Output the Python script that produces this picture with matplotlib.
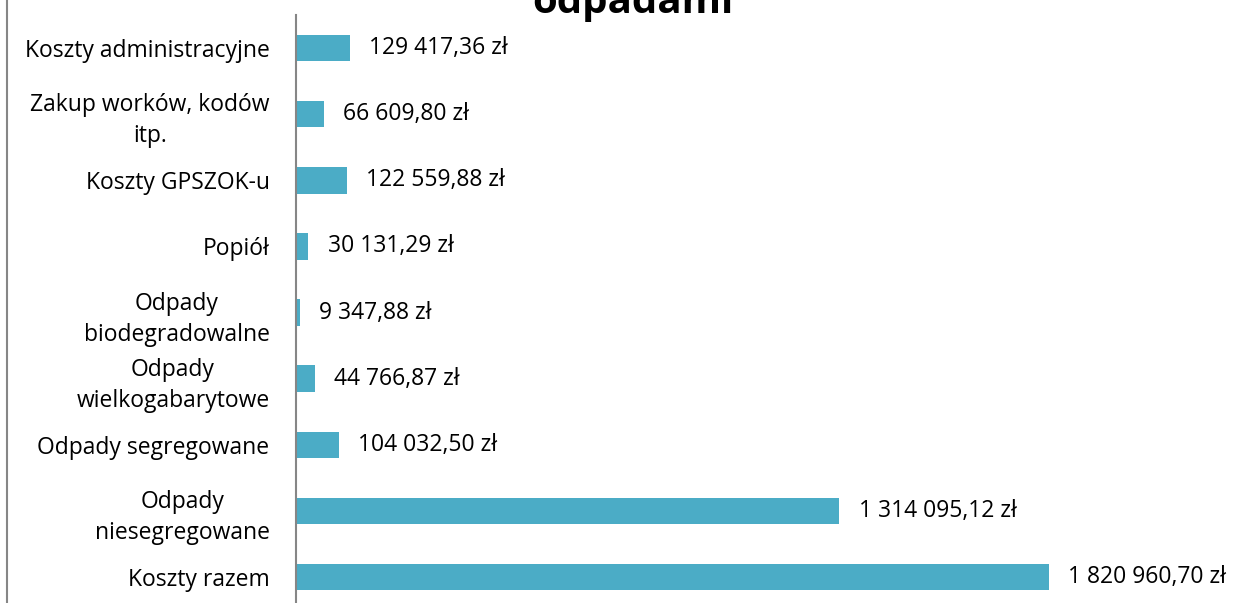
import matplotlib.pyplot as plt
from matplotlib.lines import Line2D

# Dane (od góry do dołu)
kategorie = [
    'Koszty administracyjne',
    'Zakup worków, kodów\nitp.',
    'Koszty GPSZOK-u',
    'Popiół',
    'Odpady\nbiodegradowalne',
    'Odpady\nwielkogabarytowe',
    'Odpady segregowane',
    'Odpady\nniesegregowane',
    'Koszty razem',
]
wartosci = [129417.36, 66609.80, 122559.88, 30131.29, 9347.88,
            44766.87, 104032.50, 1314095.12, 1820960.70]
etykiety = ['129 417,36 zł', '66 609,80 zł', '122 559,88 zł', '30 131,29 zł',
            '9 347,88 zł', '44 766,87 zł', '104 032,50 zł', '1 314 095,12 zł',
            '1 820 960,70 zł']

plt.rcParams['font.family'] = ['Open Sans', 'DejaVu Sans']

W, H = 1233, 603
fig = plt.figure(figsize=(W / 100, H / 100), dpi=100)
ax = fig.add_axes([296 / W, (H - 610) / H, 827 / W, 595 / H])

pos = list(range(len(kategorie)))
ax.barh(pos, wartosci, height=0.4, color='#4BACC6')
ax.set_xlim(0, 2_000_000)
ax.set_ylim(len(kategorie) - 0.5, -0.5)

ax.set_yticks(pos)
ax.set_yticklabels(kategorie, fontsize=16.5, multialignment='center',
                   color='#000000', linespacing=1.4)
ax.tick_params(axis='y', length=0, pad=19)
ax.set_xticks([])

for s in ['top', 'right', 'bottom']:
    ax.spines[s].set_visible(False)
ax.spines['left'].set_color('#868686')
ax.spines['left'].set_linewidth(1.5)

for p, v, lab in zip(pos, wartosci, etykiety):
    ax.annotate(lab, (v, p), xytext=(14, 0), textcoords='offset points',
                ha='left', va='center', fontsize=16.5, clip_on=False)

# ramka wykresu po lewej
fig.add_artist(Line2D([7 / W, 7 / W], [0, 1], color='#868686', linewidth=1.5))

# tytuł (przycięty u góry)
fig.text(633 / W, 1 - 13 / H, 'odpadami', ha='center', va='baseline',
         fontsize=29, fontweight='bold')

fig.savefig('out.png', dpi=100)
